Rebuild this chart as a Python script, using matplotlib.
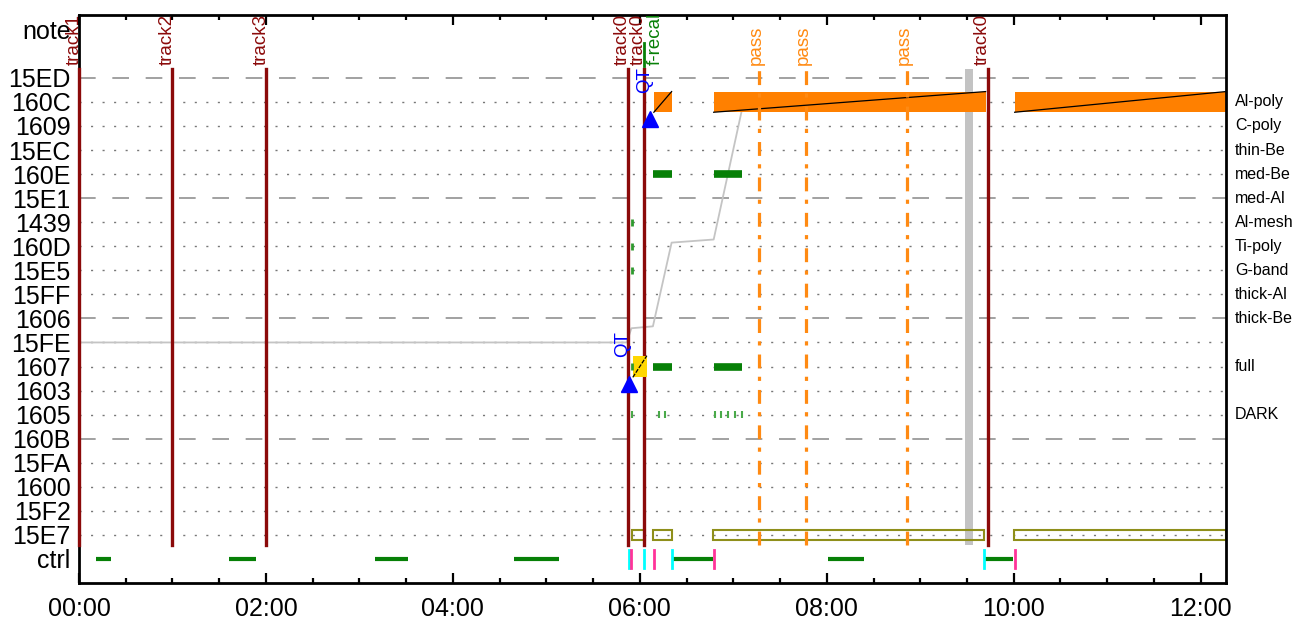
import matplotlib.pyplot as plt
import matplotlib.patches as patches
import matplotlib.transforms as mtransforms
from matplotlib.ticker import MultipleLocator, FuncFormatter

plt.rcParams['font.family'] = ['Liberation Sans', 'DejaVu Sans']
plt.rcParams['lines.scale_dashes'] = False

# Rows from top to bottom; the "note" row sits two slots above 15ED
rows = ['15ED', '160C', '1609', '15EC', '160E', '15E1', '1439', '160D',
        '15E5', '15FF', '1606', '15FE', '1607', '1603', '1605', '160B',
        '15FA', '1600', '15F2', '15E7', 'ctrl']
dashed_rows = ['15ED', '15E1', '1606', '160B']

filter_rows = ['160C', '1609', '15EC', '160E', '15E1', '1439', '160D',
               '15E5', '15FF', '1606', '1607', '1605']
filter_names = ['Al-poly', 'C-poly', 'thin-Be', 'med-Be', 'med-Al', 'Al-mesh',
                'Ti-poly', 'G-band', 'thick-Al', 'thick-Be', 'full', 'DARK']

# times in hours
track_times = [0.0, 1.0, 2.0, 5.87, 6.04, 9.72]
track_names = ['track1', 'track2', 'track3', 'track0', 'track0', 'track0']
pass_times = [7.28, 7.78, 8.86]
frecal_time = 6.04
qt_times = [6.107, 5.88]
qt_rows = ['1609', '1603']
band_span = (9.48, 9.56)

orange_boxes = [(6.15, 6.34), (6.79, 9.70), (10.01, 12.27)]   # row 160C
yellow_boxes = [(5.925, 6.075)]                               # row 1607
green_bars = [(6.14, 6.34), (6.79, 7.09)]                     # rows 160E, 1607
green_bar_rows = ['160E', '1607']
small_tick_rows = ['1439', '160D', '15E5', '1607']
small_tick_time = 5.92
dark_ticks = [5.92, 6.21, 6.27, 6.80, 6.87, 6.94, 7.02, 7.09]  # row 1605
olive_boxes = [(5.92, 6.05), (6.14, 6.34), (6.78, 9.68), (10.00, 12.27)]  # row 15E7

ctrl_segments = [(0.18, 0.34), (1.60, 1.89), (3.17, 3.52), (4.65, 5.14),
                 (6.34, 6.78), (8.01, 8.40), (9.69, 9.99)]
ctrl_cyan = [5.88, 6.04, 6.34, 9.68]
ctrl_pink = [5.91, 6.15, 6.79, 10.01]

trace_t = [0.0, 5.86, 5.91, 6.14, 6.34, 6.79, 7.09]
trace_y = [9.0, 9.0, 9.59, 9.67, 13.15, 13.28, 18.63]

x_max = 12.27

ypos = {name: len(rows) - 1 - i for i, name in enumerate(rows)}
ypos['note'] = ypos['15ED'] + 2

fig = plt.figure(figsize=(13.1, 6.23), dpi=100)
ax = fig.add_axes([0.0603, 0.0642, 0.8755, 0.912])

dark_red = '#8b0a0a'
orange = '#ff8000'
green = '#078007'
label_size = 13.5
label_y = 20.55

# grid lines
for name in rows[:-1]:
    y = ypos[name]
    if name in dashed_rows:
        ax.plot([0, x_max], [y, y], color='#888888', lw=1.1,
                ls=(0, (12, 12)), zorder=0.5)
    else:
        ax.plot([0, x_max], [y, y], color='#777777', lw=1.0,
                ls=(0, (1.5, 6.8)), zorder=0.5)

y_lo, y_hi = 0.58, 20.37

ax.add_patch(patches.Rectangle((band_span[0], y_lo), band_span[1] - band_span[0],
                               y_hi - y_lo, facecolor='#c3c3c3',
                               edgecolor='none', zorder=1))

# gray trace
ax.plot(trace_t, trace_y, color='#c4c4c4', lw=1.3, zorder=1.5)

# orange filter boxes with diagonals
y0 = ypos['160C']
for a, b in orange_boxes:
    ax.add_patch(patches.Rectangle((a, y0 - 0.43), b - a, 0.86,
                                   facecolor=orange, edgecolor='none', zorder=2))
    ax.plot([a, b], [y0 - 0.43, y0 + 0.43], color='black', lw=0.9, zorder=2.2)

y0 = ypos['1607']
for a, b in yellow_boxes:
    ax.add_patch(patches.Rectangle((a, y0 - 0.45), b - a, 0.9,
                                   facecolor='#ffd700', edgecolor='none', zorder=3.5))
    ax.plot([a, b], [y0 - 0.45, y0 + 0.45], color='black', lw=0.9,
            ls=(0, (3, 1)), zorder=3.6)

# green exposures
for name in green_bar_rows:
    for a, b in green_bars:
        ax.plot([a, b], [ypos[name]] * 2, color=green, lw=5.5,
                solid_capstyle='butt', zorder=2.5)

for name in small_tick_rows:
    ax.plot([small_tick_time] * 2, [ypos[name] - 0.15, ypos[name] + 0.15],
            color='#2e9a2e', lw=2, solid_capstyle='butt', zorder=3.7)

for t in dark_ticks:
    ax.plot([t, t], [ypos['1605'] - 0.13, ypos['1605'] + 0.13],
            color='#4aaa4a', lw=1.5, solid_capstyle='butt', zorder=2.5)

# olive boxes
y0 = ypos['15E7']
for a, b in olive_boxes:
    ax.add_patch(patches.Rectangle((a, y0 - 0.2), b - a, 0.4, facecolor='none',
                                   edgecolor='#8f8f1a', lw=1.5, zorder=2))

# ctrl row
y0 = ypos['ctrl']
for a, b in ctrl_segments:
    ax.plot([a, b], [y0, y0], color=green, lw=3, solid_capstyle='butt', zorder=2)
for t in ctrl_cyan:
    ax.plot([t, t], [y0 - 0.38, y0 + 0.38], color='#00ffff', lw=2, zorder=2)
for t in ctrl_pink:
    ax.plot([t, t], [y0 - 0.38, y0 + 0.38], color='#ff3399', lw=2, zorder=2)

# pass lines
for t in pass_times:
    ax.plot([t, t], [y_lo, y_hi], color='#ff8a12', lw=2.3,
            ls=(0, (10, 6.5, 3, 6)), zorder=3)
    ax.text(t - 0.035, label_y, 'pass', rotation=90, ha='center', va='bottom',
            color='#ff8a12', fontsize=label_size, clip_on=False, zorder=5)

# track lines
for t, name in zip(track_times, track_names):
    ax.plot([t, t], [y_lo, y_hi], color=dark_red, lw=2.4, zorder=3,
            clip_on=False)
    ax.text(t - 0.055, label_y, name, rotation=90, ha='center', va='bottom',
            color=dark_red, fontsize=label_size, clip_on=False, zorder=5)

# f-recal note
ax.plot([frecal_time] * 2, [20.5, 21.45], color=green, lw=2, zorder=3)
ax.text(frecal_time + 0.12, label_y, 'f-recal', rotation=90, ha='center',
        va='bottom', color=green, fontsize=label_size, zorder=5)

# QT markers
for t, name in zip(qt_times, qt_rows):
    ax.plot(t, ypos[name] + 0.29, marker='^', color='#0000ff', ms=11,
            ls='none', zorder=4)
    ax.text(t - 0.06, ypos[name] + 1.38, 'QT', rotation=90, ha='center',
            va='bottom', color='#0000ff', fontsize=label_size, zorder=5)

# filter names on the right
trans = mtransforms.blended_transform_factory(ax.transAxes, ax.transData)
for name, label in zip(filter_rows, filter_names):
    ax.text(1.008, ypos[name], label, transform=trans, ha='left', va='center',
            fontsize=11.5)

ax.set_xlim(0, x_max)
ax.set_ylim(-1, ypos['note'] + 0.62)

ax.xaxis.set_major_locator(MultipleLocator(2))
ax.xaxis.set_minor_locator(MultipleLocator(0.5))
ax.xaxis.set_major_formatter(FuncFormatter(lambda h, pos: f'{int(round(h)):02d}:00'))
ax.tick_params(axis='x', which='both', direction='in', top=True, width=1.6,
               labelsize=18, pad=10)
ax.tick_params(axis='x', which='major', length=7)
ax.tick_params(axis='x', which='minor', length=3.5)

ytick_names = rows + ['note']
ax.set_yticks([ypos[n] for n in ytick_names])
ax.set_yticklabels(ytick_names)
ax.tick_params(axis='y', length=0, labelsize=18, pad=6)

for spine in ax.spines.values():
    spine.set_linewidth(2)

fig.savefig('out.png', dpi=100)
plt.close(fig)
